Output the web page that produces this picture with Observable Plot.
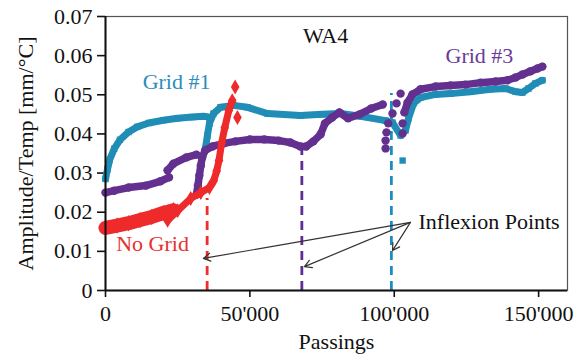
<!DOCTYPE html>
<html><head><meta charset="utf-8">
<script src="https://cdn.jsdelivr.net/npm/d3@7"></script>
<script src="https://cdn.jsdelivr.net/npm/@observablehq/plot@0.6"></script>
<style>body{margin:0;background:#fff}</style>
</head><body><div id="chart"></div>
<script>
// ---- tick values / labels
const xTicks = [0, 50000, 100000, 150000];
const xTickLabels = ["0", "50'000", "100'000", "150'000"];
const yTicks = [0, 0.01, 0.02, 0.03, 0.04, 0.05, 0.06, 0.07];
const yTickLabels = ["0", "0.01", "0.02", "0.03", "0.04", "0.05", "0.06", "0.07"];

// ---- Grid #1 (teal squares)
const grid1A = [[0,0.0285],[700,0.031],[1500,0.0335],[3000,0.0362],[5000,0.0385],[8000,0.0405],[11000,0.0418],[15000,0.0428],[20000,0.0435],[25000,0.0440],[30000,0.0443],[34000,0.0445],[36000,0.0443]];
const grid1B = [[34600,0.0363],[35300,0.0396],[36000,0.0427],[37400,0.0452],[39800,0.0468],[44300,0.0473],[49200,0.0468],[56100,0.0452],[67500,0.0447],[75000,0.0450],[81400,0.0452],[88300,0.0445],[97000,0.0434],[99400,0.0429],[102200,0.0396],[103900,0.0409],[104900,0.0439],[106700,0.0478],[109100,0.0493],[114300,0.0501],[119500,0.0503],[126400,0.0508],[133300,0.0514],[138500,0.0516],[142000,0.0508],[144400,0.0506],[146500,0.0516],[148900,0.0529],[151300,0.0537]];
const grid1Stray = [[102900,0.0332]];

// ---- Grid #3 (purple circles)
const grid3A = [[0,0.0250],[3000,0.0255],[8000,0.0263],[14000,0.0268],[19000,0.0279],[22000,0.0289]];
const grid3B = [[21500,0.0307],[23500,0.0324],[28000,0.0340],[31500,0.0347]];
const grid3C = [[31500,0.0245],[32000,0.0268],[32500,0.0294],[33000,0.0319],[33500,0.0340],[34500,0.0358],[37000,0.0368],[41000,0.0376],[45000,0.0381],[50000,0.0386],[55000,0.0386],[60000,0.0383],[64000,0.0378],[67500,0.0368],[69500,0.0368],[72000,0.0381],[74500,0.0399],[76000,0.0427],[78500,0.0442],[81000,0.0455],[84000,0.0440],[88000,0.0450],[92000,0.0465],[96000,0.0475]];
const grid3Scatter = [[97000,0.0363],[97000,0.0383],[97300,0.0404],[97900,0.0427],[99400,0.0452],[100800,0.0478],[102200,0.0503],[102900,0.0401],[102900,0.0427]];
const grid3E = [[103500,0.0455],[104600,0.0480],[106300,0.0501],[109100,0.0514],[114300,0.0521],[119500,0.0524],[124700,0.0526],[129900,0.0531],[135100,0.0534],[139200,0.0537],[142000,0.0544],[144400,0.0552],[147200,0.0560],[149600,0.0567],[151300,0.0572]];

// ---- No Grid (red diamonds)
const noGridA = [[0,0.0160],[4000,0.0166],[8000,0.0172],[12000,0.0180],[16000,0.0188],[20000,0.0198],[23500,0.0205]];
const noGridB = [[21500,0.0179],[25000,0.0204],[29500,0.0235],[33000,0.0250],[36000,0.0263],[37500,0.0281],[38500,0.0305],[39300,0.0332],[40200,0.0376],[41300,0.0416],[42700,0.0460],[43900,0.0485]];
const noGridStray = [[44900,0.0520],[45700,0.0442]];

// ---- inflexion markers
const inflexX = [35200, 68000, 99000];
const inflexTop = [0.0235, 0.0365, 0.0503];
const inflexColors = ["#ee2e2e", "#5e2e94", "#1e8cc0"];
const arrowFrom = [105600, 0.0174];
const arrowToX = [33900, 68900, 99400];
const arrowToY = [0.0082, 0.0061, 0.0102];

// ---- labels
const labelText = ["WA4", "Grid #1", "Grid #3", "No Grid"];
const labelX = [76200, 24600, 129500, 16300];
const labelY = [0.0651, 0.0534, 0.0598, 0.0120];
const labelColor = ["#111", "#2a8dbb", "#6a3a9a", "#e8302f"];
const noteText = "Inflexion Points";
const noteX = 108400, noteY = 0.0176;

const C_TEAL = "#1f8db5", C_PURPLE = "#63308f", C_RED = "#ee2a2a";

const toRows = (arr, seg) => arr.map(([x, y]) => ({x, y, seg}));
const teal = [...toRows(grid1A, "a"), ...toRows(grid1B, "b")];
const purple = [...toRows(grid3A, "a"), ...toRows(grid3B, "b"), ...toRows(grid3C, "c"), ...toRows(grid3E, "e")];
const purpleScatter = toRows(grid3Scatter, "s");
const redA = toRows(noGridA, "a");
const redB = toRows(noGridB, "b");
const dashes = inflexX.map((x, i) => ({x, top: inflexTop[i], c: inflexColors[i]}));
const arrows = arrowToX.map((x, i) => ({x1: arrowFrom[0], y1: arrowFrom[1], x2: x, y2: arrowToY[i]}));
const labels = labelText.map((t, i) => ({t, x: labelX[i], y: labelY[i], c: labelColor[i]}));

const chart = Plot.plot({
  width: 584, height: 358,
  marginLeft: 105, marginRight: 17, marginTop: 16, marginBottom: 68,
  style: {fontFamily: "'Liberation Serif', 'Times New Roman', serif", fontSize: "22px", color: "#111", background: "#fff"},
  x: {domain: [0, 160000]},
  y: {domain: [0, 0.07]},
  marks: [
    Plot.frame({stroke: "#555", strokeWidth: 1.2}),
    Plot.axisX({ticks: xTicks, tickFormat: d => xTickLabels[xTicks.indexOf(d)], tickSize: 7, tickPadding: 8, strokeWidth: 1.6,
      label: "Passings", labelAnchor: "center", labelArrow: "none", labelOffset: 58}),
    Plot.axisY({ticks: yTicks, tickFormat: d => yTickLabels[yTicks.indexOf(d)], tickSize: 8, tickPadding: 5, strokeWidth: 1.6,
      label: "Amplitude/Temp [mm/°C]", labelAnchor: "center", labelArrow: "none", labelOffset: 88}),
    Plot.ruleX(dashes, {x: "x", y1: 0, y2: "top", stroke: "c", strokeWidth: 2.8, strokeDasharray: "9,6"}),
    Plot.line(teal, {x: "x", y: "y", z: "seg", stroke: C_TEAL, strokeWidth: 7}),
    Plot.dot(teal, {x: "x", y: "y", symbol: "square", r: 3.6, fill: C_TEAL}),
    Plot.dot(grid1Stray, {x: d => d[0], y: d => d[1], symbol: "square", r: 3.6, fill: C_TEAL}),
    Plot.line(purple, {x: "x", y: "y", z: "seg", stroke: C_PURPLE, strokeWidth: 7.5}),
    Plot.dot(purple, {x: "x", y: "y", r: 4.2, fill: C_PURPLE}),
    Plot.dot(purpleScatter, {x: "x", y: "y", r: 4.2, fill: C_PURPLE}),
    Plot.line(redA, {x: "x", y: "y", stroke: C_RED, strokeWidth: 14}),
    Plot.dot(redA, {x: "x", y: "y", symbol: "diamond", r: 5, fill: C_RED}),
    Plot.line(redB, {x: "x", y: "y", stroke: C_RED, strokeWidth: 7}),
    Plot.dot(redB, {x: "x", y: "y", symbol: "diamond", r: 4.5, fill: C_RED}),
    Plot.dot(noGridStray, {x: d => d[0], y: d => d[1], symbol: "diamond", r: 4.5, fill: C_RED}),
    Plot.ruleX([0], {stroke: "#111", strokeWidth: 2}),
    Plot.ruleY([0], {stroke: "#111", strokeWidth: 2}),
    Plot.arrow(arrows, {x1: "x1", y1: "y1", x2: "x2", y2: "y2", stroke: "#333", strokeWidth: 1.2, headLength: 10}),
    Plot.text(labels, {x: "x", y: "y", text: "t", fill: "c", fontSize: 22}),
    Plot.text([noteText], {x: noteX, y: noteY, text: d => d, fill: "#111", textAnchor: "start", fontSize: 22})
  ]
});
document.getElementById("chart").appendChild(chart);
</script>
</body></html>
